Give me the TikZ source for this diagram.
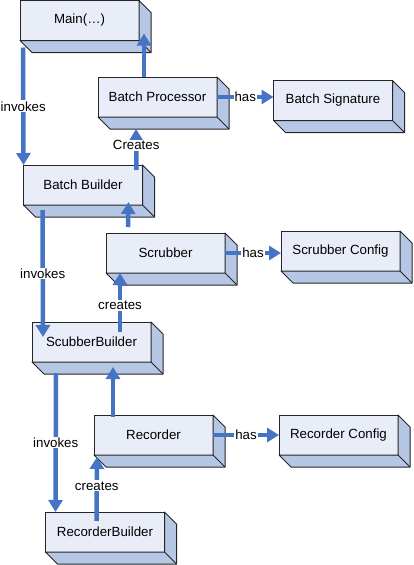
\documentclass[tikz,border=0pt]{standalone}
\usepackage{fontspec}
\setmainfont{Liberation Sans}
\usetikzlibrary{arrows.meta}

\definecolor{facefill}{RGB}{233,237,247}
\definecolor{sidefill}{RGB}{181,199,228}
\definecolor{flowblue}{RGB}{70,116,196}

\tikzset{
    block/.style={draw=black!85, line width=1pt, fill=facefill,
        minimum width=119pt, minimum height=40pt, inner sep=0pt, outer sep=0pt,
        font=\fontsize{13.3}{15}\selectfont},
    side/.style={fill=sidefill, draw=black!85, line width=1pt, line join=round},
    flow/.style={draw=flowblue, line width=4.5pt, -{Triangle[width=14pt, length=12pt]}},
    flowlabel/.style={fill=white, inner sep=1pt, text=black,
        font=\fontsize{13.3}{15}\selectfont}
}

\begin{document}
\begin{tikzpicture}[x=1pt, y=-1pt]
                \useasboundingbox (0, 0) rectangle (413, 565);

                % front faces
                \node[block] (main) at (79.5, 20.5) {Main(…)};

                \node[block] (bproc) at (157.5, 97) {Batch Processor};

                \node[block] (bsig) at (333, 100.5) {Batch Signature};

                \node[block] (bbuild) at (83, 185) {Batch Builder};

                \node[block] (scrub) at (165.5, 253) {Scrubber};

                \node[block] (sconf) at (340.5, 251) {Scrubber Config};

                \node[block] (sbuild) at (91.5, 342) {ScubberBuilder};

                \node[block] (rec) at (153.5, 435) {Recorder};

                \node[block] (rconf) at (338.5, 435) {Recorder Config};

                \node[block] (rbuild) at (105, 532) {RecorderBuilder};

                % depth of each box
                \foreach \b in {main, bproc, bsig, bbuild, scrub, sconf, sbuild, rec, rconf, rbuild} {
                    \draw[side] (\b.north east) -- ++(12, 12) -- ++(0, 40) -- ++(-119, 0)
                        -- (\b.south west) -- (\b.south east) -- cycle;
                    \draw[side] (\b.south east) -- ++(12, 12);
                }

                % invokes
                \draw[flow] ([xshift=3pt, yshift=-7pt]main.south west) -- node[flowlabel] {invokes} (bbuild.north west);

                \draw[flow] ([xshift=19pt, yshift=-5pt]bbuild.south west) -- node[flowlabel] {invokes} ([xshift=11pt, yshift=-15pt]sbuild.north west);

                \draw[flow] ([xshift=24pt, yshift=-11pt]sbuild.south west) -- node[flowlabel] {invokes} ([xshift=10pt]rbuild.north west);

                % creates
                \draw[flow] ([xshift=113pt, yshift=-5pt]bbuild.north west) -- node[flowlabel, pos=0.6] {Creates} ([xshift=38pt, yshift=-12pt]bproc.south west);

                \draw[flow] ([xshift=88pt, yshift=-10pt]sbuild.north west) -- node[flowlabel, pos=0.45] {creates} ([xshift=14pt]scrub.south west);

                \draw[flow] ([xshift=51pt, yshift=-9pt]rbuild.north west) -- node[flowlabel, pos=0.55] {creates} ([xshift=3pt, yshift=-2pt]rec.south west);

                % back to the builder
                \draw[flow] ([xshift=46pt]bproc.north west) -- ([xshift=5pt, yshift=7pt]main.south east);

                \draw[flow] ([xshift=22pt, yshift=6pt]scrub.north west) -- ([xshift=105pt, yshift=3pt]bbuild.south west);

                \draw[flow] ([xshift=19pt, yshift=-2pt]rec.north west) -- ([xshift=81pt, yshift=-5pt]sbuild.south west);

                % has
                \draw[flow] (bproc.east) -- node[flowlabel] {has} (bproc.east -| bsig.west);

                \draw[flow] (scrub.east) -- node[flowlabel] {has} (scrub.east -| sconf.west);

                \draw[flow] (rec.east) -- node[flowlabel] {has} (rconf.west);
            \end{tikzpicture}
\end{document}
